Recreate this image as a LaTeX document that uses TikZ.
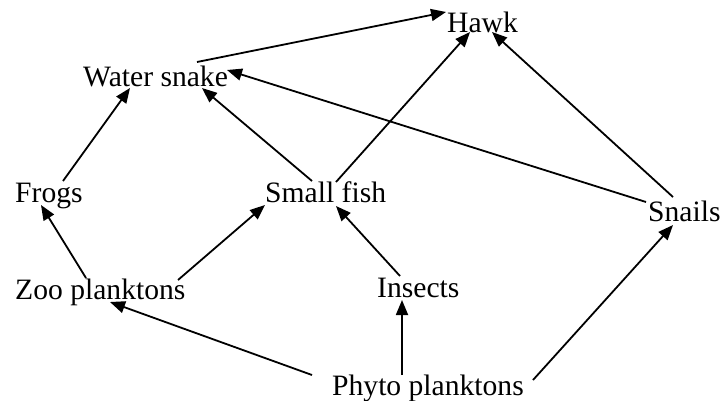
\documentclass[tikz,border=0pt]{standalone}
\usepackage{fontspec}
\setmainfont{Liberation Serif}
\usetikzlibrary{arrows.meta,calc}
\tikzset{
  lbl/.style={anchor=base west,inner sep=0pt,font=\fontsize{29.6}{34}\selectfont},
  arr/.style={line width=1.8pt,-{Triangle[length=15pt,width=12pt]}}
}
\begin{document}
\begin{tikzpicture}[x=1pt,y=-1pt]
\useasboundingbox (0,0) rectangle (720,400);
\node[lbl] (hawk) at (447,32) {Hawk};
\node[lbl] (ws) at (83,86) {Water snake};
\node[lbl] (frogs) at (15,202) {Frogs};
\node[lbl] (fish) at (265,202) {Small fish};
\node[lbl] (snails) at (648,221) {Snails};
\node[lbl] (zoo) at (15,299) {Zoo planktons};
\node[lbl] (insects) at (377,297) {Insects};
\node[lbl] (phyto) at (332,395) {Phyto planktons};

\draw[arr] ($(ws.base west)+(114,-24)$) -- ($(hawk.base west)+(-1,-20)$);
\draw[arr] ($(frogs.base west)+(48,-21)$) -- ($(ws.base west)+(47,2)$);
\draw[arr] ($(fish.base west)+(47,-21)$) -- ($(ws.base west)+(119,2)$);
\draw[arr] ($(snails.base west)+(-2,-19)$) -- ($(ws.base west)+(144,-16)$);
\draw[arr] ($(fish.base west)+(71,-20)$) -- ($(hawk.base west)+(23,0)$);
\draw[arr] ($(snails.base west)+(25,-24)$) -- ($(hawk.base west)+(45,0)$);
\draw[arr] ($(zoo.base west)+(71,-21)$) -- ($(frogs.base west)+(26,3)$);
\draw[arr] ($(zoo.base west)+(163,-19)$) -- ($(fish.base west)+(0,3)$);
\draw[arr] ($(phyto.base west)+(-20,-20)$) -- ($(zoo.base west)+(95,3)$);
\draw[arr] ($(insects.base west)+(23,-21)$) -- ($(fish.base west)+(71,4)$);
\draw[arr] ($(phyto.base west)+(70,-20)$) -- ($(insects.base west)+(25,3)$);
\draw[arr] ($(phyto.base west)+(201,-15)$) -- ($(snails.base west)+(25,4)$);
\end{tikzpicture}
\end{document}
